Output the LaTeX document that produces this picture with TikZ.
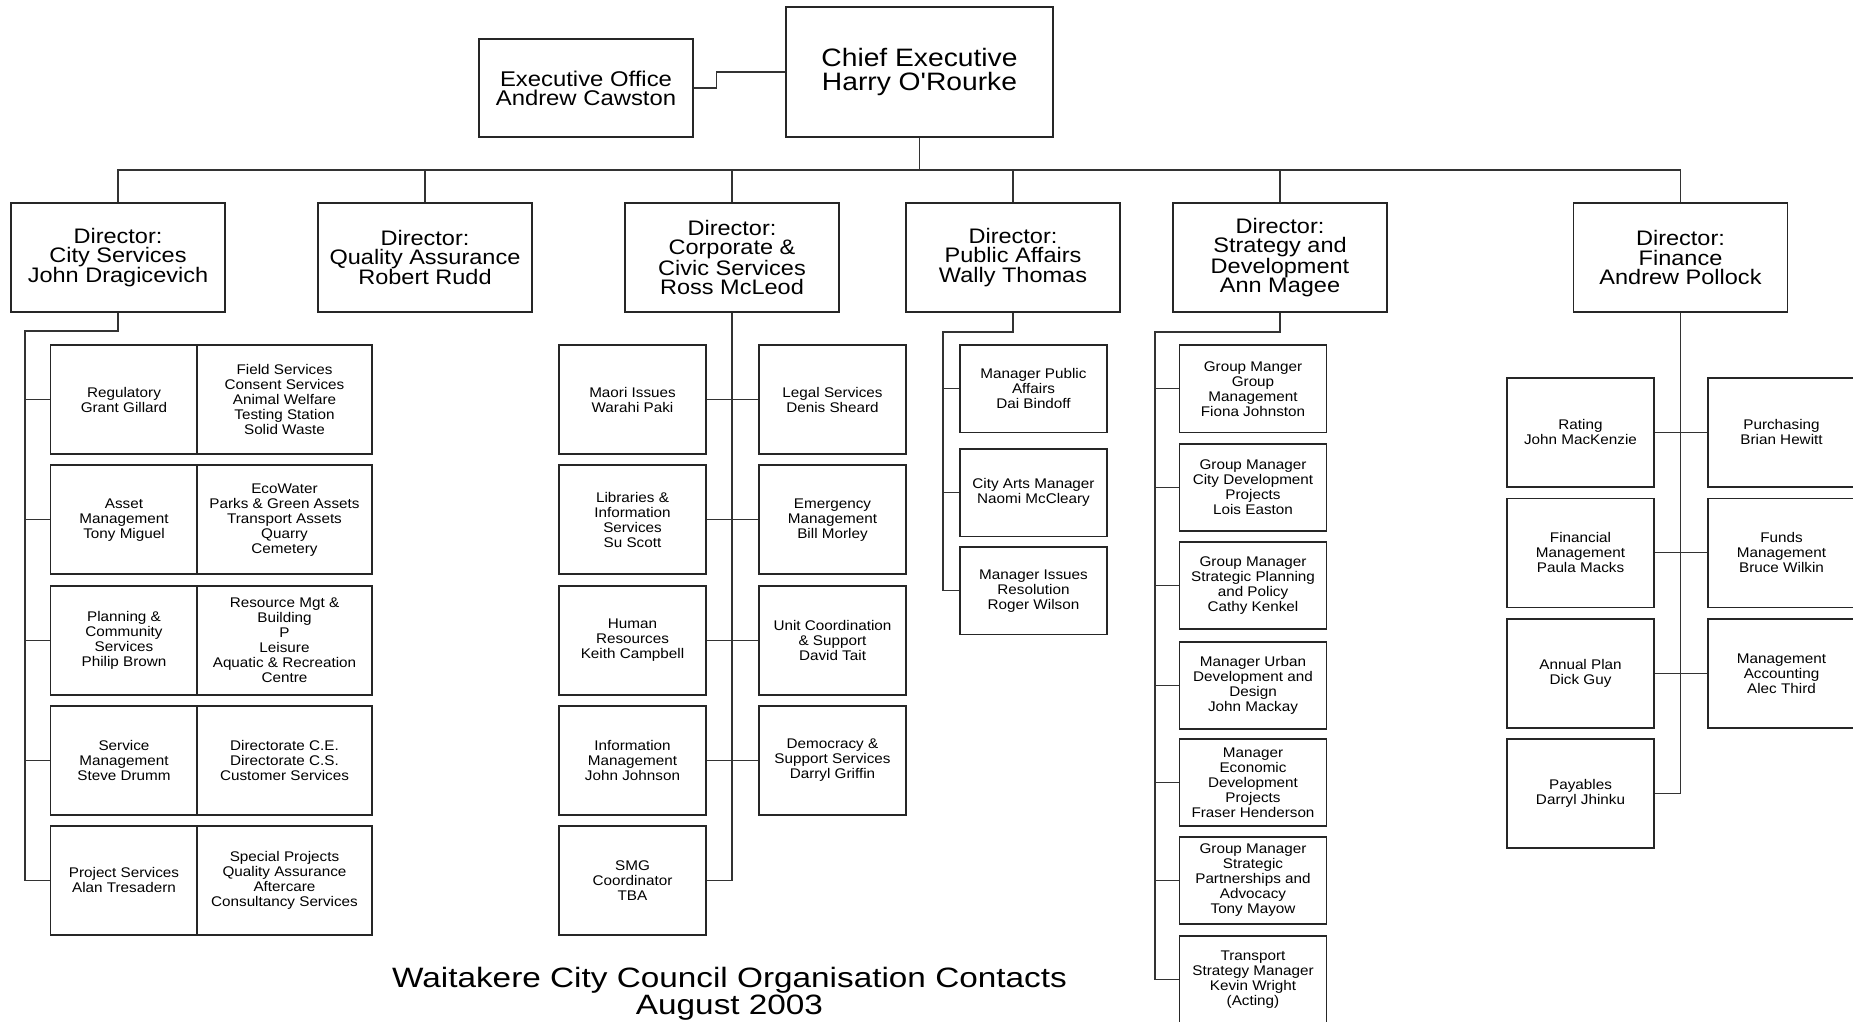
\documentclass[tikz,border=0pt]{standalone}
\usepackage{fontspec}
\setmainfont{Liberation Sans}
\newfontfamily\dirfont[FakeStretch=1.12,Ligatures=TeXOff]{Liberation Sans}
\newfontfamily\boxfont[FakeStretch=1.09,Ligatures=TeXOff]{Liberation Sans}
\newfontfamily\ttlfont[FakeStretch=1.19,Ligatures=TeXOff]{Liberation Sans}
\begin{document}
\begin{tikzpicture}[x=1pt,y=-1pt,
  orgbox/.style={draw=black!85, line width=1.6pt, fill=white, align=center, inner sep=0pt, text=black},
  bigbox/.style={orgbox, font=\dirfont\fontsize{21}{19.2}\selectfont, minimum width=214, minimum height=109},
  smallbox/.style={orgbox, font=\boxfont\fontsize{14}{15}\selectfont, minimum width=147, minimum height=109},
  widebox/.style={smallbox, minimum width=175},
  lowbox/.style={smallbox, minimum height=87.5},
  link/.style={draw=black!80, line width=1.2pt},
  ttl/.style={font=\ttlfont\fontsize{28}{29.5}\selectfont, anchor=base, inner sep=0pt}
]
\useasboundingbox (0,0) rectangle (1853,1022);

% top
\node[orgbox, font=\dirfont\fontsize{21.3}{19}\selectfont, minimum width=214, minimum height=98] (exec) at (586,88) {Executive Office\\Andrew Cawston};
\node[orgbox, font=\dirfont\fontsize{25.2}{23.6}\selectfont, minimum width=267, minimum height=130] (chief) at (919.5,72) {Chief Executive\\Harry O'Rourke};

% directors
\node[bigbox] (city)  at (118,257.5)    {Director:\\City Services\\John Dragicevich};
\node[bigbox] (qa)    at (425,257.5)    {Director:\\Quality Assurance\\Robert Rudd};
\node[bigbox] (corp)  at (732,257.5)    {Director:\\Corporate \&\\Civic Services\\Ross McLeod};
\node[bigbox] (pa)    at (1013,257.5)   {Director:\\Public Affairs\\Wally Thomas};
\node[bigbox] (strat) at (1280,257.5)   {Director:\\Strategy and\\Development\\Ann Magee};
\node[bigbox] (fin)   at (1680.5,257.5) {Director:\\Finance\\Andrew Pollock};

% city services
\node[smallbox] (cl0) at (124,399.7) {Regulatory\\Grant Gillard};
\node[widebox]  (cr0) at (284.5,399.7) {Field Services\\Consent Services\\Animal Welfare\\Testing Station\\Solid Waste};
\node[smallbox] (cl1) at (124,519.7) {Asset\\Management\\Tony Miguel};
\node[widebox]  (cr1) at (284.5,519.7) {EcoWater\\Parks \& Green Assets\\Transport Assets\\Quarry\\Cemetery};
\node[smallbox] (cl2) at (124,640.3) {Planning \&\\Community\\Services\\Philip Brown};
\node[widebox]  (cr2) at (284.5,640.3) {Resource Mgt \&\\Building\\P\\Leisure\\Aquatic \& Recreation\\Centre};
\node[smallbox] (cl3) at (124,760.3) {Service\\Management\\Steve Drumm};
\node[widebox]  (cr3) at (284.5,760.3) {Directorate C.E.\\Directorate C.S.\\Customer Services};
\node[smallbox] (cl4) at (124,880.3) {Project Services\\Alan Tresadern};
\node[widebox]  (cr4) at (284.5,880.3) {Special Projects\\Quality Assurance\\Aftercare\\Consultancy Services};

% corporate
\node[smallbox] (kl0) at (632.5,399.7) {Maori Issues\\Warahi Paki};
\node[smallbox] (kr0) at (832.5,399.7) {Legal Services\\Denis Sheard};
\node[smallbox] (kl1) at (632.5,519.7) {Libraries \&\\Information\\Services\\Su Scott};
\node[smallbox] (kr1) at (832.5,519.7) {Emergency\\Management\\Bill Morley};
\node[smallbox] (kl2) at (632.5,640.3) {Human\\Resources\\Keith Campbell};
\node[smallbox] (kr2) at (832.5,640.3) {Unit Coordination\\\& Support\\David Tait};
\node[smallbox] (kl3) at (632.5,760.3) {Information\\Management\\John Johnson};
\node[smallbox] (kr3) at (832.5,760.3) {Democracy \&\\Support Services\\Darryl Griffin};
\node[smallbox] (kl4) at (632.5,880.3) {SMG\\Coordinator\\TBA};

% public affairs
\node[lowbox] (p0) at (1033.5,388.75) {Manager Public\\Affairs\\Dai Bindoff};
\node[lowbox] (p1) at (1033.5,492.75) {City Arts Manager\\Naomi McCleary};
\node[lowbox] (p2) at (1033.5,590.75) {Manager Issues\\Resolution\\Roger Wilson};

% strategy
\node[lowbox] (s0) at (1253,388.75) {Group Manger\\Group\\Management\\Fiona Johnston};
\node[lowbox] (s1) at (1253,487.5) {Group Manager\\City Development\\Projects\\Lois Easton};
\node[lowbox] (s2) at (1253,585.5) {Group Manager\\Strategic Planning\\and Policy\\Cathy Kenkel};
\node[lowbox] (s3) at (1253,685.5) {Manager Urban\\Development and\\Design\\John Mackay};
\node[lowbox] (s4) at (1253,782.5) {Manager\\Economic\\Development\\Projects\\Fraser Henderson};
\node[lowbox] (s5) at (1253,880.5) {Group Manager\\Strategic\\Partnerships and\\Advocacy\\Tony Mayow};
\node[lowbox] (s6) at (1253,979.5) {Transport\\Strategy Manager\\Kevin Wright\\(Acting)};

% finance
\node[smallbox] (fl0) at (1580.5,432.2) {Rating\\John MacKenzie};
\node[smallbox] (fr0) at (1781.5,432.2) {Purchasing\\Brian Hewitt};
\node[smallbox] (fl1) at (1580.5,552.8) {Financial\\Management\\Paula Macks};
\node[smallbox] (fr1) at (1781.5,552.8) {Funds\\Management\\Bruce Wilkin};
\node[smallbox] (fl2) at (1580.5,673.5) {Annual Plan\\Dick Guy};
\node[smallbox] (fr2) at (1781.5,673.5) {Management\\Accounting\\Alec Third};
\node[smallbox] (fl3) at (1580.5,793.3) {Payables\\Darryl Jhinku};

% title
\node[ttl] (title) at (729.5,987) {Waitakere City Council Organisation Contacts};
\node[ttl] (date) at (729.5,1014.5) {August 2003};

% connectors top
\draw[link] (exec.east) -- ++(23,0) |- (chief.west);
\coordinate (bus) at (919.5,170);
\draw[link] (chief.south) -- (bus);
\draw[link] (city.north) |- (bus) -| (fin.north);
\draw[link] (qa.north) -- (qa.north |- bus);
\draw[link] (corp.north) -- (corp.north |- bus);
\draw[link] (pa.north) -- (pa.north |- bus);
\draw[link] (strat.north) -- (strat.north |- bus);

% city connectors
\coordinate (cj) at (25,331);
\draw[link] (city.south) |- (cj) -- (cj |- cl4.west) -- (cl4.west);
\foreach \i in {0,1,2,3} \draw[link] (cj |- cl\i.west) -- (cl\i.west);

% corporate connectors
\draw[link] (corp.south) -- (corp.south |- kl4.east) -- (kl4.east);
\foreach \i in {0,1,2,3} \draw[link] (kl\i.east) -- (kr\i.west);

% public affairs connectors
\coordinate (pj) at (943,332);
\draw[link] (pa.south) |- (pj) -- (pj |- p2.west) -- (p2.west);
\foreach \i in {0,1} \draw[link] (pj |- p\i.west) -- (p\i.west);

% strategy connectors
\coordinate (sj) at (1155,332);
\draw[link] (strat.south) |- (sj) -- (sj |- s6.west) -- (s6.west);
\foreach \i in {0,1,2,3,4,5} \draw[link] (sj |- s\i.west) -- (s\i.west);

% finance connectors
\draw[link] (fin.south) -- (fin.south |- fl3.east) -- (fl3.east);
\foreach \i in {0,1,2} \draw[link] (fl\i.east) -- (fr\i.west);
\end{tikzpicture}
\end{document}
